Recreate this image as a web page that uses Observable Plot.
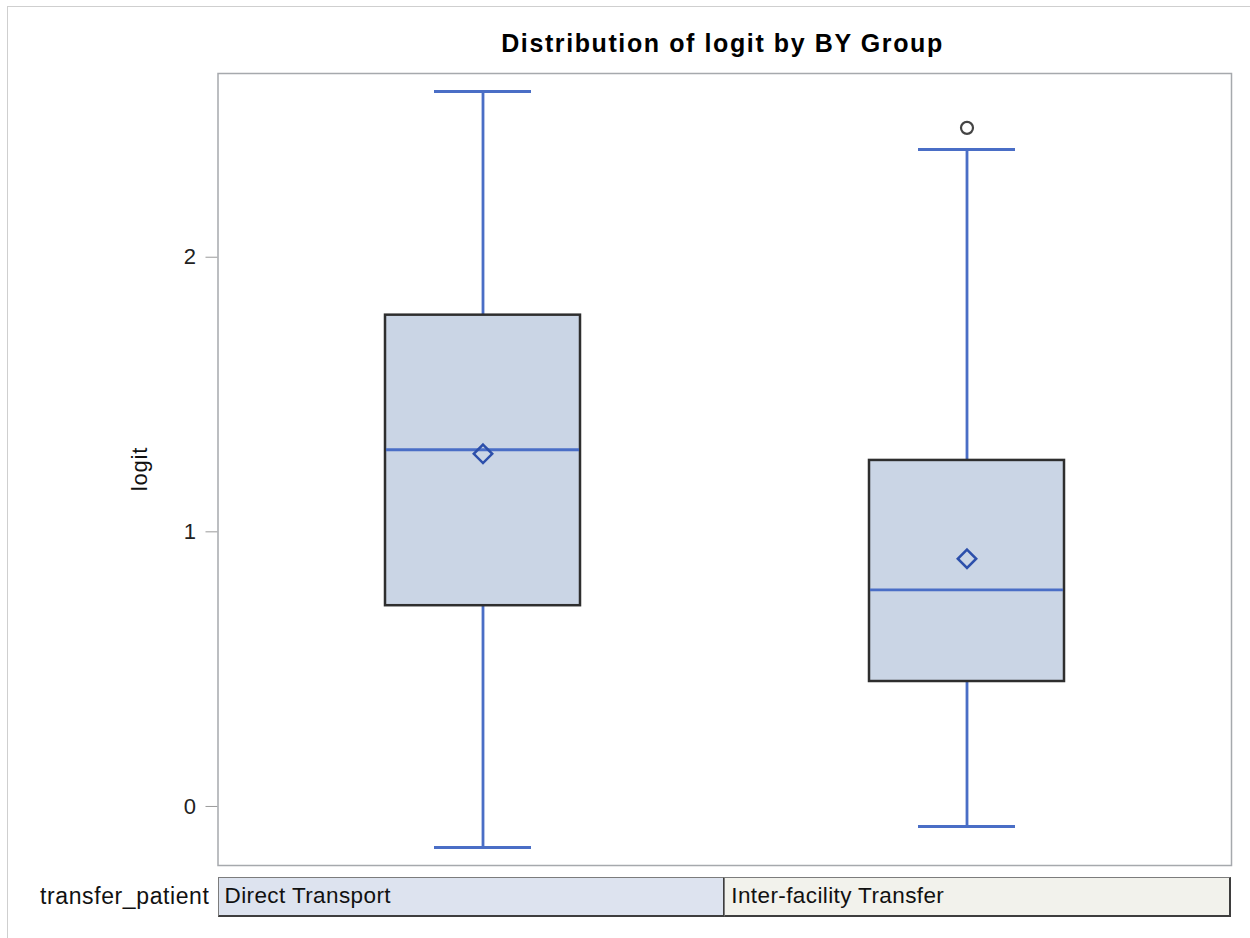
<!DOCTYPE html>
<html>
<head>
<meta charset="utf-8">
<script src="https://cdn.jsdelivr.net/npm/d3@7"></script>
<script src="https://cdn.jsdelivr.net/npm/@observablehq/plot@0.6"></script>
<style>
  html, body { margin: 0; padding: 0; background: #fff; overflow: hidden; }
  #wrap { position: relative; width: 1250px; height: 938px; overflow: hidden; font-family: "Liberation Sans", Arial, sans-serif; color: #111; }
  #outer { position: absolute; left: 7px; top: 6px; width: 1400px; height: 1100px; border: 1.5px solid #cfcfcf; }
  #chart { position: absolute; left: 0; top: 0; }
  .title { position: absolute; top: 31px; left: 0; width: 1250px; text-align: center; font-weight: bold; font-size: 25px; line-height: 25px; letter-spacing: 1.6px; padding-left: 195px; box-sizing: border-box; color: #000; }
  .ylab { position: absolute; left: 139.5px; top: 469px; transform: translate(-50%, -50%) rotate(-90deg); font-size: 22px; line-height: 22px; letter-spacing: 0.8px; white-space: nowrap; }
  .classlab { position: absolute; top: 877px; height: 39px; line-height: 38px; font-size: 23px; letter-spacing: 0.6px; white-space: nowrap; }
  .cell { position: absolute; top: 877px; height: 40px; box-sizing: border-box; border-top: 1px solid #7c7c7c; border-left: 1px solid #7c7c7c; border-right: 2.5px solid #3e3e3e; border-bottom: 2.5px solid #3e3e3e; font-size: 22.5px; letter-spacing: 0.4px; line-height: 35px; padding-left: 6px; white-space: nowrap; }
</style>
</head>
<body>
<div id="wrap">
  <div id="outer"></div>
  <div id="chart"></div>
</div>
<script>
// ---- data ----
const categories   = ["Direct Transport", "Inter-facility Transfer"];
const q1           = [0.731, 0.455];
const median       = [1.299, 0.789];
const q3           = [1.789, 1.260];
const mean         = [1.284, 0.902];
const whiskerLow   = [-0.149, -0.073];
const whiskerHigh  = [2.603, 2.392];
const outlierCat   = ["Inter-facility Transfer"];
const outlierValue = [2.471];
const yTicks       = [0, 1, 2];
const cellFills    = ["#dde3ef", "#f2f2ec"];
const titleText    = "Distribution of logit by BY Group";
const yLabel       = "logit";
const classVar     = "transfer_patient";

const boxes = categories.map((c, i) => ({
  cat: c, q1: q1[i], med: median[i], q3: q3[i], mean: mean[i], lo: whiskerLow[i], hi: whiskerHigh[i]
}));
const outliers = outlierCat.map((c, i) => ({cat: c, v: outlierValue[i]}));

const blue = "#4a6ec6";
const W = 1250, H = 938;
const mL = 217.5, mR = 19, mT = 73, mB = 73;

const chart = Plot.plot({
  width: W, height: H,
  marginLeft: mL, marginRight: mR, marginTop: mT, marginBottom: mB,
  style: {fontFamily: "'Liberation Sans', Arial, sans-serif", fontSize: "22px", background: "transparent", color: "#222"},
  x: {type: "band", domain: categories, paddingInner: 0.598, paddingOuter: 0.344, axis: null},
  y: {domain: [-0.215, 2.669], axis: null},
  marks: [
    Plot.ruleX(boxes, {x: "cat", y1: "q3", y2: "hi", stroke: blue, strokeWidth: 2.8}),
    Plot.ruleX(boxes, {x: "cat", y1: "lo", y2: "q1", stroke: blue, strokeWidth: 2.8}),
    Plot.tickY(boxes, {x: "cat", y: "hi", insetLeft: 49, insetRight: 49, stroke: blue, strokeWidth: 3}),
    Plot.tickY(boxes, {x: "cat", y: "lo", insetLeft: 49, insetRight: 49, stroke: blue, strokeWidth: 3}),
    Plot.barY(boxes, {x: "cat", y1: "q1", y2: "q3", fill: "#cad5e5", stroke: "#2e2e2e", strokeWidth: 2.5}),
    Plot.tickY(boxes, {x: "cat", y: "med", insetLeft: 1, insetRight: 1, stroke: blue, strokeWidth: 2.8}),
    Plot.dot(boxes, {x: "cat", y: "mean", symbol: "diamond2", r: 8.3, stroke: "#2c4fab", strokeWidth: 2.5, fill: "none"}),
    Plot.dot(outliers, {x: "cat", y: "v", r: 6, stroke: "#444", strokeWidth: 2.2, fill: "none"}),
    Plot.axisY({ticks: yTicks, tickSize: 12, tickPadding: 10, stroke: "#9a9a9a", fill: "#222", label: null, tickFormat: d3.format("d")}),
    Plot.frame({stroke: "#a6a9ad", strokeWidth: 1.5})
  ]
});
document.getElementById("chart").appendChild(chart);

const wrap = document.getElementById("wrap");
const t = document.createElement("div");
t.className = "title"; t.textContent = titleText; wrap.appendChild(t);
const yl = document.createElement("div");
yl.className = "ylab"; yl.textContent = yLabel; wrap.appendChild(yl);

// class (BY group) panel below the plot frame
const left = mL, right = W - mR;
const cw = (right - left) / categories.length;
const lab = document.createElement("div");
lab.className = "classlab"; lab.textContent = classVar;
lab.style.right = (W - left + 8) + "px";
wrap.appendChild(lab);
categories.forEach((c, i) => {
  const d = document.createElement("div");
  d.className = "cell";
  d.textContent = c;
  d.style.left = (left + i * cw) + "px";
  d.style.width = (cw + (i < categories.length - 1 ? 1 : 0)) + "px";
  d.style.background = cellFills[i];
  wrap.appendChild(d);
});
</script>
</body>
</html>
